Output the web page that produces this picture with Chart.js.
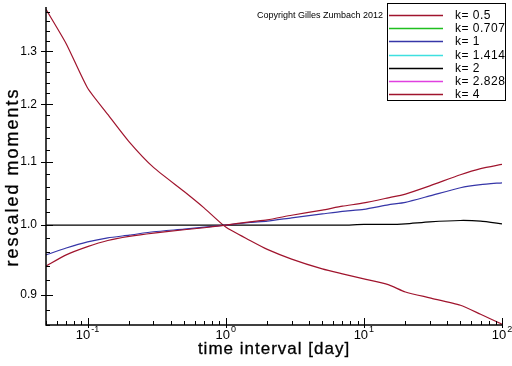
<!DOCTYPE html>
<html>
<head>
<meta charset="utf-8">
<script src="https://cdn.jsdelivr.net/npm/chart.js@4/dist/chart.umd.min.js"></script>
<style>
  html, body { margin: 0; padding: 0; background: #fff; }
  #wrap { position: relative; width: 512px; height: 366px; }
</style>
</head>
<body>
<div id="wrap"><canvas id="grafica"></canvas></div>
<script>
// Momentos reescalados vs intervalo de tiempo (ejes log-log).
const FUENTE = '"Liberation Sans", Arial, sans-serif';

const tiempoDias = [0.05, 0.07, 0.1, 0.14, 0.2, 0.3, 0.5, 0.7, 1, 1.5, 2, 3, 5, 7, 10, 15, 20, 30, 50, 70, 100];
const momentoK05 = [0.940, 0.956, 0.968, 0.977, 0.983, 0.988, 0.993, 0.996, 1.000, 1.005, 1.008, 1.015, 1.023, 1.029, 1.034, 1.042, 1.048, 1.061, 1.079, 1.089, 1.096];
const momentoK1 = [0.956, 0.966, 0.975, 0.981, 0.985, 0.990, 0.994, 0.997, 1.000, 1.004, 1.006, 1.011, 1.017, 1.021, 1.024, 1.031, 1.035, 1.045, 1.058, 1.063, 1.066];
const momentoK2 = [1.000, 1.000, 1.000, 1.000, 1.000, 1.000, 1.000, 1.000, 1.000, 1.000, 1.000, 1.000, 1.000, 1.000, 1.001, 1.001, 1.002, 1.005, 1.007, 1.006, 1.002];
const momentoK4 = [1.385, 1.315, 1.230, 1.182, 1.134, 1.091, 1.052, 1.026, 0.997, 0.977, 0.964, 0.950, 0.936, 0.929, 0.922, 0.914, 0.904, 0.896, 0.886, 0.874, 0.861];

const etiquetasK = ["k= 0.5", "k= 0.707", "k= 1", "k= 1.414", "k= 2", "k= 2.828", "k= 4"];
const coloresK = ["#a0142d", "#1fbf1f", "#3636a8", "#3ee0e0", "#000000", "#e040e0", "#a0142d"];
// k=0.707, 1.414 y 2.828 solo aparecen en la leyenda
const seriesK = [momentoK05, [], momentoK1, [], momentoK2, [], momentoK4];

const ticksY = [0.9, 1.0, 1.1, 1.2, 1.3];
const decadasX = [0.1, 1, 10, 100];
const exponentesX = ["-1", "0", "1", "2"];

const X_MIN = 0.05, X_MAX = 100, Y_MIN = 0.86, Y_MAX = 1.39;

function textoGrueso(ctx, texto, x, y) {
  ctx.fillText(texto, x, y);
  ctx.lineWidth = 0.3;
  ctx.strokeText(texto, x, y);
}

const ejesYLeyenda = {
  id: "ejesYLeyenda",
  afterDraw(chart) {
    const { ctx, chartArea: a, scales } = chart;
    const sx = scales.x, sy = scales.y;
    ctx.save();
    ctx.strokeStyle = "#000";
    ctx.fillStyle = "#000";

    // lineas de ejes
    ctx.lineWidth = 1.5;
    ctx.beginPath();
    ctx.moveTo(a.left, a.top);
    ctx.lineTo(a.left, a.bottom);
    ctx.lineTo(a.right, a.bottom);
    ctx.stroke();

    // marcas del eje x (log)
    ctx.lineWidth = 1;
    ctx.beginPath();
    for (let e = -2; e <= 2; e++) {
      for (let m = 1; m <= 9; m++) {
        const v = m * Math.pow(10, e);
        if (v < X_MIN * 0.999 || v > X_MAX * 1.001) continue;
        const px = Math.round(sx.getPixelForValue(v)) + 0.5;
        ctx.moveTo(px, a.bottom + (m === 1 ? 3 : 0));
        ctx.lineTo(px, a.bottom - (m === 1 ? 7 : 4));
      }
    }
    // marcas del eje y
    for (let i = 0; i <= 26; i++) {
      const v = 0.86 + i * 0.02;
      if (v > Y_MAX) break;
      const py = Math.round(sy.getPixelForValue(v)) + 0.5;
      ctx.moveTo(a.left, py);
      ctx.lineTo(a.left + 4, py);
    }
    ticksY.forEach(v => {
      const py = Math.round(sy.getPixelForValue(v)) + 0.5;
      ctx.moveTo(a.left - 5, py);
      ctx.lineTo(a.left + 7, py);
    });
    ctx.stroke();

    // etiquetas 10^n del eje x
    ctx.textBaseline = "alphabetic";
    ctx.textAlign = "left";
    decadasX.forEach((v, i) => {
      const px = sx.getPixelForValue(v);
      ctx.font = `13px ${FUENTE}`;
      const wBase = ctx.measureText("10").width;
      ctx.font = `9px ${FUENTE}`;
      const wExp = ctx.measureText(exponentesX[i]).width;
      const x0 = px - (wBase + wExp + 1) / 2;
      ctx.font = `13px ${FUENTE}`;
      ctx.fillText("10", x0, a.bottom + 14);
      ctx.font = `9px ${FUENTE}`;
      ctx.fillText(exponentesX[i], x0 + wBase + 1, a.bottom + 7);
    });

    // titulos de ejes
    ctx.font = `17px ${FUENTE}`;
    ctx.letterSpacing = "1px";
    ctx.textAlign = "center";
    textoGrueso(ctx, "time interval [day]", (a.left + a.right) / 2, 354);

    ctx.save();
    ctx.translate(13, 177);
    ctx.rotate(-Math.PI / 2);
    ctx.font = `18px ${FUENTE}`;
    ctx.letterSpacing = "2px";
    ctx.textBaseline = "middle";
    textoGrueso(ctx, "rescaled moments", 0, 0);
    ctx.restore();

    // copyright
    ctx.letterSpacing = "0px";
    ctx.textAlign = "left";
    ctx.textBaseline = "middle";
    ctx.font = `9px ${FUENTE}`;
    ctx.fillText("Copyright Gilles Zumbach 2012", 257, 16);

    // leyenda en caja
    ctx.lineWidth = 1;
    ctx.strokeRect(387.5, 3.5, 118, 97);
    ctx.font = `12px ${FUENTE}`;
    ctx.letterSpacing = "0.5px";
    chart.data.datasets.forEach((ds, i) => {
      const y = Math.round(15 + i * 13.2) + 0.5;
      ctx.strokeStyle = ds.borderColor;
      ctx.lineWidth = 1.5;
      ctx.beginPath();
      ctx.moveTo(389, y);
      ctx.lineTo(443, y);
      ctx.stroke();
      ctx.fillStyle = "#000";
      ctx.fillText(ds.label, 455, y);
    });
    ctx.restore();
  }
};

new Chart(document.getElementById("grafica"), {
  type: "line",
  data: {
    datasets: etiquetasK.map((label, i) => ({
      label,
      data: seriesK[i].map((v, j) => ({ x: tiempoDias[j], y: v })),
      borderColor: coloresK[i],
      backgroundColor: coloresK[i],
      borderWidth: 1.2,
      pointRadius: 0,
      tension: 0.2,
      fill: false
    }))
  },
  options: {
    responsive: true,
    maintainAspectRatio: false,
    animation: false,
    events: [],
    layout: { padding: { top: 7, right: 10, left: 0, bottom: 0 } },
    plugins: { legend: { display: false }, tooltip: { enabled: false } },
    scales: {
      x: {
        type: "logarithmic",
        min: X_MIN,
        max: X_MAX,
        bounds: "data",
        ticks: { display: false },
        grid: { display: false, drawTicks: false },
        border: { display: false },
        afterFit: s => { s.height = 41; s.paddingLeft = 0; s.paddingRight = 0; }
      },
      y: {
        type: "logarithmic",
        min: Y_MIN,
        max: Y_MAX,
        bounds: "data",
        afterBuildTicks: s => { s.ticks = ticksY.map(value => ({ value })); },
        ticks: {
          color: "#000",
          padding: 9,
          autoSkip: false,
          font: { family: FUENTE, size: 12 },
          callback: v => Number(v).toFixed(1)
        },
        grid: { display: false, drawTicks: false },
        border: { display: false },
        afterFit: s => { s.width = 46; s.paddingTop = 0; s.paddingBottom = 0; }
      }
    }
  },
  plugins: [ejesYLeyenda]
});
</script>
</body>
</html>
